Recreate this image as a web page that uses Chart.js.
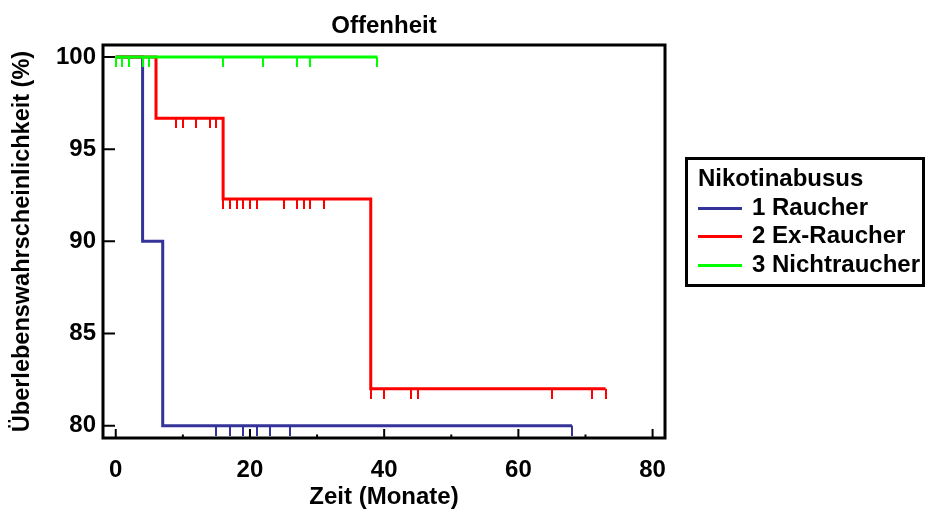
<!DOCTYPE html>
<html>
<head>
<meta charset="utf-8">
<script src="https://cdn.jsdelivr.net/npm/chart.js@4.4.0/dist/chart.umd.min.js"></script>
<style>
    body { margin: 0; background: #fff; }
    #wrap { position: relative; width: 926px; height: 512px; }
    #legend {
        position: absolute; left: 685px; top: 157px; width: 240px; height: 130px;
        box-sizing: border-box; border: 3px solid #000; padding: 4px 0 0 10px;
        font: bold 24px "Liberation Sans", Arial, sans-serif; line-height: 28.5px; color: #000;
        white-space: nowrap; overflow: hidden;
    }
    #legend .sample { display: inline-block; width: 44px; height: 3px; vertical-align: middle; margin-right: 10px; }
</style>
</head>
<body>
<div id="wrap">
    <canvas id="km" width="926" height="512"></canvas>
    <div id="legend"></div>
</div>
<script>
// tick values
var timeTicks = [0, 10, 20, 30, 40, 50, 60, 70, 80];
var survTicks = [80, 85, 90, 95, 100];

var groupTitle = 'Nikotinabusus';
var groups = ['1 Raucher', '2 Ex-Raucher', '3 Nichtraucher'];
var groupColors = ['#333399', '#ff0000', '#00ff00'];

// step curves (time in months, survival in %)
var rauchStepX = [0, 4, 7, 68];
var rauchStepY = [100, 90, 80, 80];
var rauchCensX = [15, 17, 19, 21, 23, 26, 68];
var rauchCensY = [80, 80, 80, 80, 80, 80, 80];

var exStepX = [0, 6, 16, 38, 73];
var exStepY = [100, 96.67, 92.3, 82, 82];
var exCensX = [9, 10, 12, 14, 15, 16, 17, 18, 19, 20, 21, 25, 27, 28, 29, 31, 38, 40, 44, 45, 65, 71, 73];
var exCensY = [96.67, 96.67, 96.67, 96.67, 96.67,
    92.3, 92.3, 92.3, 92.3, 92.3, 92.3, 92.3, 92.3, 92.3, 92.3, 92.3,
    82, 82, 82, 82, 82, 82, 82];

var nichtStepX = [0, 39];
var nichtStepY = [100, 100];
var nichtCensX = [0, 1, 2, 4, 5, 16, 22, 27, 29, 39];
var nichtCensY = [100, 100, 100, 100, 100, 100, 100, 100, 100, 100];

var FONT = '"Liberation Sans", Arial, sans-serif';
Chart.defaults.font.family = FONT;
Chart.defaults.color = '#000';

function toPoints(xs, ys) {
    return xs.map(function (x, i) { return { x: x, y: ys[i] }; });
}

// little vertical dash hanging below the curve
function censorMark(color) {
    var c = document.createElement('canvas');
    c.width = 2;
    c.height = 20;
    var g = c.getContext('2d');
    g.fillStyle = color;
    g.fillRect(0, 10, 2, 10);
    return c;
}

function stepSet(xs, ys, color, order) {
    return {
        data: toPoints(xs, ys),
        borderColor: color,
        borderWidth: 3,
        stepped: true,
        pointRadius: 0,
        fill: false,
        order: order
    };
}

function censSet(xs, ys, color, order) {
    return {
        data: toPoints(xs, ys),
        showLine: false,
        pointStyle: censorMark(color),
        pointRadius: 3,
        order: order
    };
}

var frameTicks = {
    id: 'frameTicks',
    afterDraw: function (chart) {
        var ctx = chart.ctx, a = chart.chartArea;
        var xs = chart.scales.x, ys = chart.scales.y;
        ctx.save();
        ctx.strokeStyle = '#000';
        ctx.lineWidth = 2;
        ctx.beginPath();
        survTicks.forEach(function (v) {
            var py = ys.getPixelForValue(v);
            ctx.moveTo(a.left, py);
            ctx.lineTo(a.left + 12, py);
        });
        timeTicks.forEach(function (v) {
            var px = xs.getPixelForValue(v);
            ctx.moveTo(px, a.bottom);
            ctx.lineTo(px, a.bottom - (v % 20 === 0 ? 9 : 3.5));
        });
        ctx.stroke();
        ctx.lineWidth = 3;
        ctx.strokeRect(a.left, a.top, a.right - a.left, a.bottom - a.top);
        ctx.restore();
    }
};

var boldFont = { size: 24, weight: 'bold', lineHeight: 1.2 };

var chart = new Chart(document.getElementById('km').getContext('2d'), {
    type: 'line',
    data: {
        datasets: [
            stepSet(rauchStepX, rauchStepY, groupColors[0], 5),
            stepSet(exStepX, exStepY, groupColors[1], 3),
            stepSet(nichtStepX, nichtStepY, groupColors[2], 1),
            censSet(rauchCensX, rauchCensY, groupColors[0], 4),
            censSet(exCensX, exCensY, groupColors[1], 2),
            censSet(nichtCensX, nichtCensY, groupColors[2], 0)
        ]
    },
    options: {
        responsive: false,
        animation: false,
        events: [],
        layout: { padding: { left: 0, top: 0, right: 261, bottom: 0 } },
        plugins: {
            legend: { display: false },
            tooltip: { enabled: false },
            title: {
                display: true,
                text: 'Offenheit',
                fullSize: false,
                font: boldFont,
                color: '#000',
                padding: { top: 12, bottom: 4.2 }
            }
        },
        scales: {
            x: {
                type: 'linear',
                min: -1.9,
                max: 81.85,
                afterBuildTicks: function (s) {
                    s.ticks = timeTicks.map(function (v) { return { value: v }; });
                },
                afterFit: function (s) { s.height = 74; },
                grid: { display: false, drawTicks: false },
                border: { display: false },
                ticks: {
                    autoSkip: false,
                    maxRotation: 0,
                    padding: 18,
                    font: boldFont,
                    callback: function (v) { return v % 20 === 0 ? String(v) : ''; }
                },
                title: {
                    display: true,
                    text: 'Zeit (Monate)',
                    font: boldFont,
                    padding: { top: 0, bottom: 0 }
                }
            },
            y: {
                type: 'linear',
                min: 79.33,
                max: 100.65,
                afterBuildTicks: function (s) {
                    s.ticks = survTicks.map(function (v) { return { value: v }; });
                },
                afterFit: function (s) { s.width = 103; },
                grid: { display: false, drawTicks: false },
                border: { display: false },
                ticks: {
                    padding: 7,
                    font: boldFont,
                    callback: function (v) { return String(v); }
                },
                title: {
                    display: true,
                    text: 'Überlebenswahrscheinlichkeit (%)',
                    font: { size: 23.5, weight: 'bold', lineHeight: 1.2 },
                    padding: { top: 8, bottom: 0 }
                }
            }
        }
    },
    plugins: [frameTicks]
});

// legend box
var legend = document.getElementById('legend');
var html = '<div>' + groupTitle + '</div>';
groups.forEach(function (name, i) {
    html += '<div><span class="sample" style="background:' + groupColors[i] + '"></span>' + name + '</div>';
});
legend.innerHTML = html;
</script>
</body>
</html>
